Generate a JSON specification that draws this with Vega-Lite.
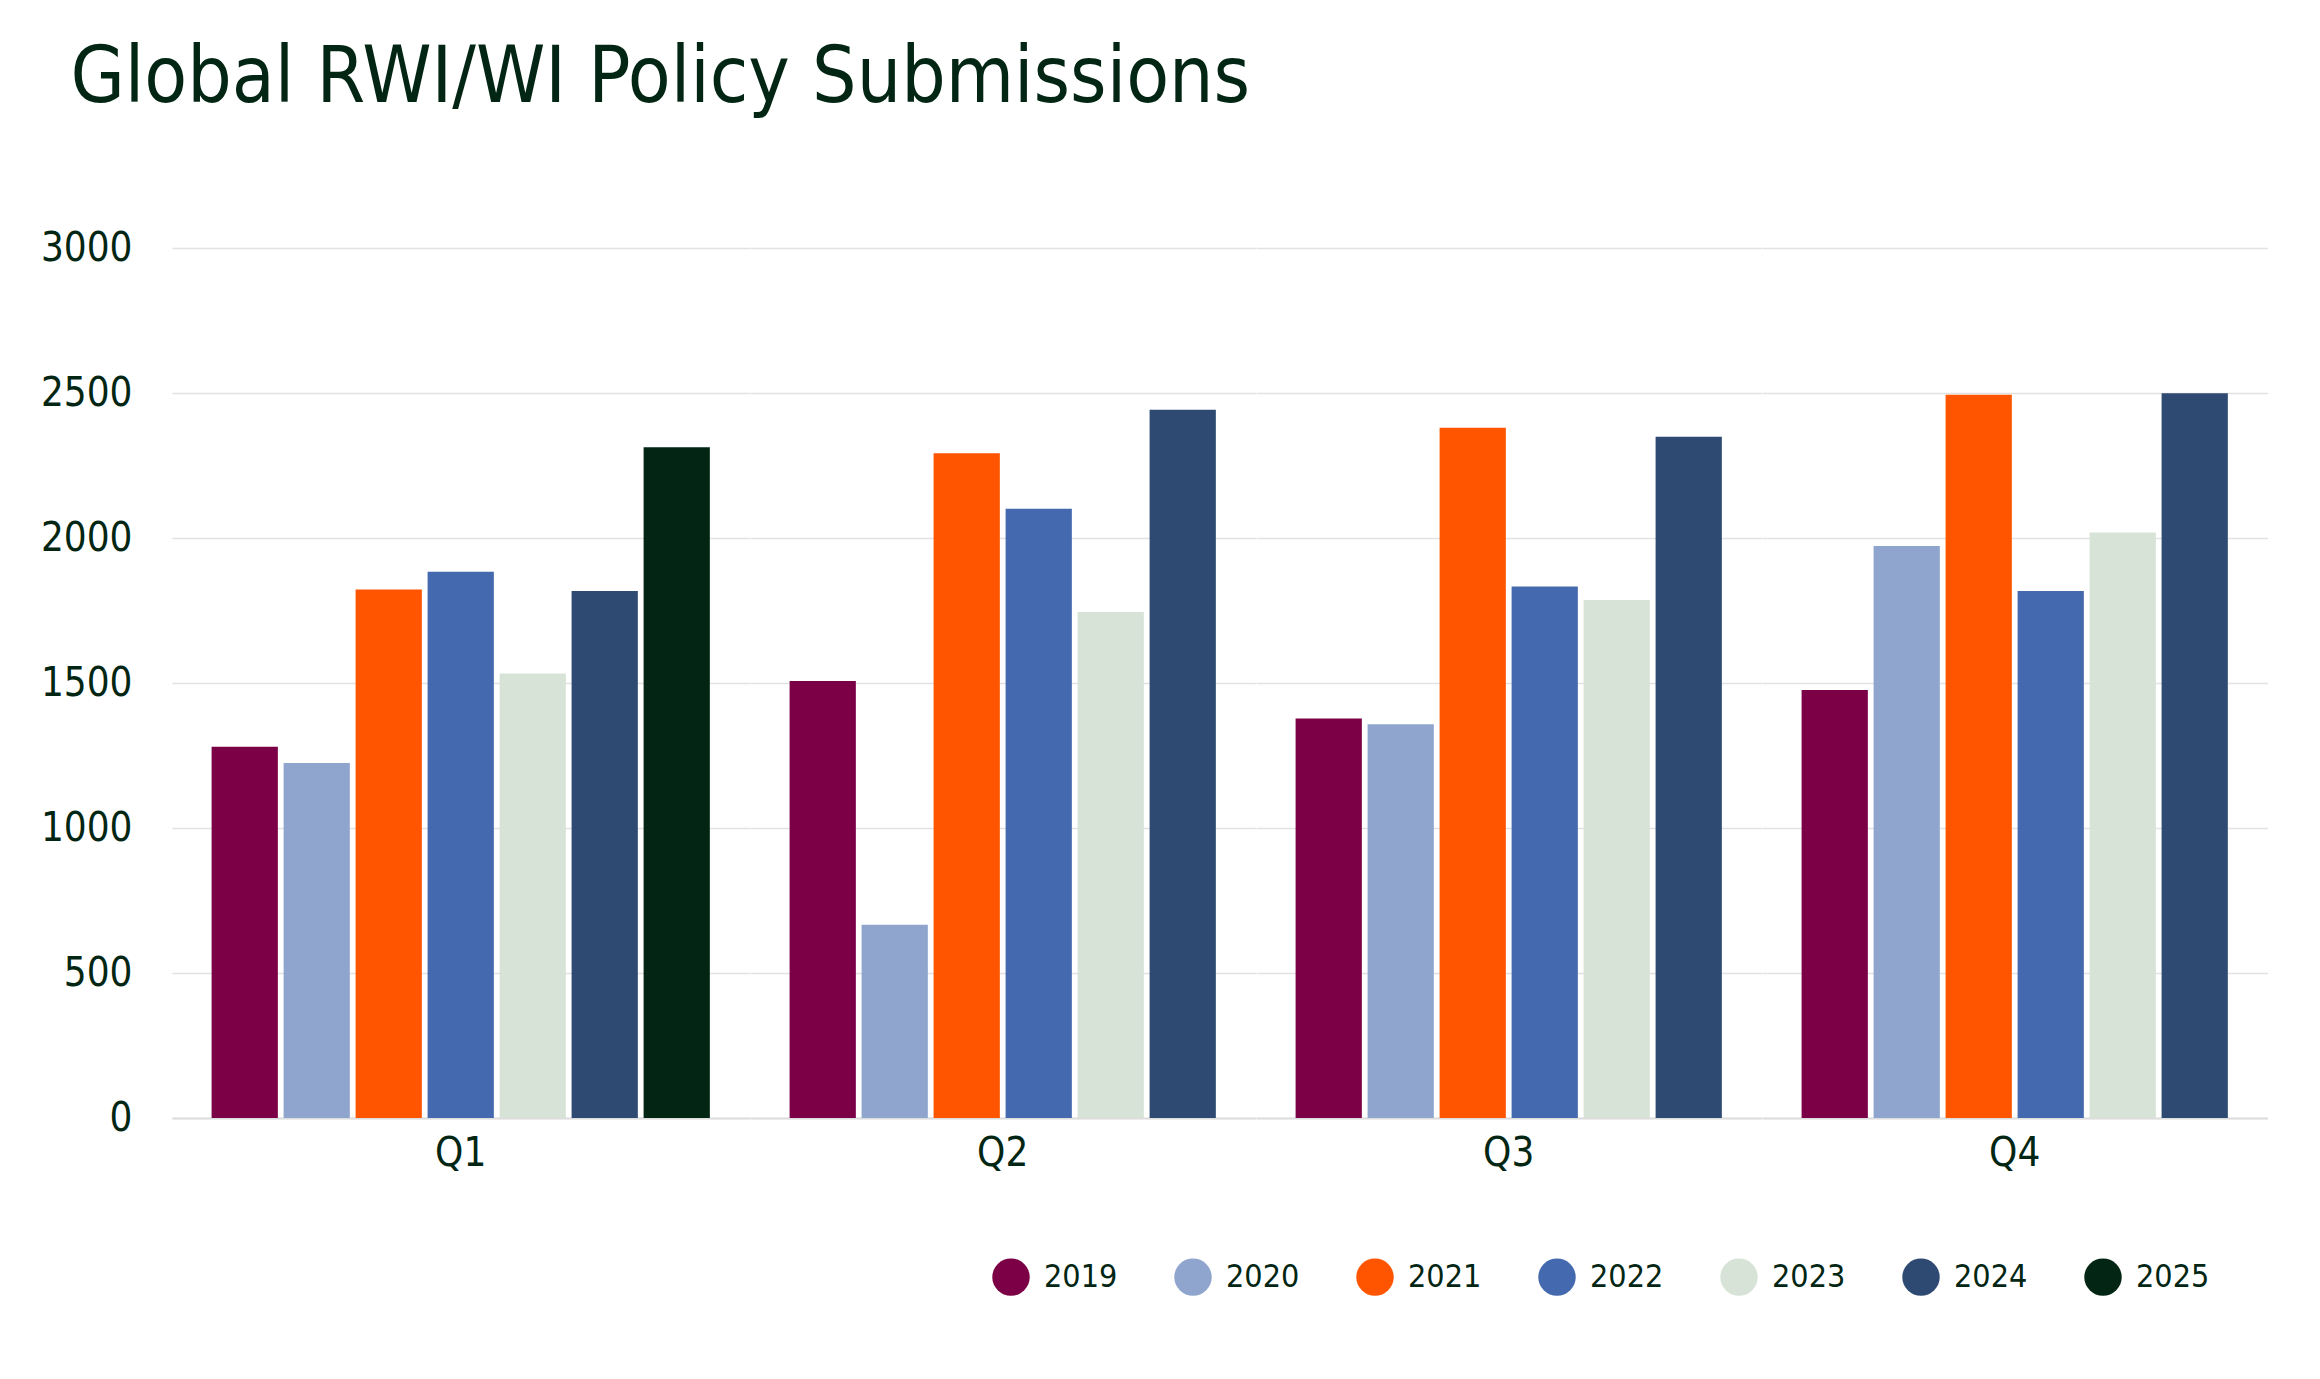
{
  "$schema": "https://vega.github.io/schema/vega-lite/v6.json",
  "background": "white",
  "padding": {"left": 40, "top": 40, "right": 45, "bottom": 40},
  "title": {
    "text": "Global RWI/WI Policy Submissions",
    "anchor": "start",
    "font": "DejaVu Sans Condensed, Roboto, sans-serif",
    "fontSize": 78,
    "fontWeight": 500,
    "color": "#022613",
    "offset": 110,
    "dx": 30
  },
  "data": {
    "values": [
      {"Quarter": "Q1", "Year": "2019", "Submissions": 1280},
      {"Quarter": "Q1", "Year": "2020", "Submissions": 1224},
      {"Quarter": "Q1", "Year": "2021", "Submissions": 1822},
      {"Quarter": "Q1", "Year": "2022", "Submissions": 1884},
      {"Quarter": "Q1", "Year": "2023", "Submissions": 1533},
      {"Quarter": "Q1", "Year": "2024", "Submissions": 1817},
      {"Quarter": "Q1", "Year": "2025", "Submissions": 2313},
      {"Quarter": "Q2", "Year": "2019", "Submissions": 1507},
      {"Quarter": "Q2", "Year": "2020", "Submissions": 666},
      {"Quarter": "Q2", "Year": "2021", "Submissions": 2292},
      {"Quarter": "Q2", "Year": "2022", "Submissions": 2101},
      {"Quarter": "Q2", "Year": "2023", "Submissions": 1745},
      {"Quarter": "Q2", "Year": "2024", "Submissions": 2442},
      {"Quarter": "Q3", "Year": "2019", "Submissions": 1378},
      {"Quarter": "Q3", "Year": "2020", "Submissions": 1358},
      {"Quarter": "Q3", "Year": "2021", "Submissions": 2380},
      {"Quarter": "Q3", "Year": "2022", "Submissions": 1833},
      {"Quarter": "Q3", "Year": "2023", "Submissions": 1786},
      {"Quarter": "Q3", "Year": "2024", "Submissions": 2349},
      {"Quarter": "Q4", "Year": "2019", "Submissions": 1476},
      {"Quarter": "Q4", "Year": "2020", "Submissions": 1972},
      {"Quarter": "Q4", "Year": "2021", "Submissions": 2494},
      {"Quarter": "Q4", "Year": "2022", "Submissions": 1817},
      {"Quarter": "Q4", "Year": "2023", "Submissions": 2019},
      {"Quarter": "Q4", "Year": "2024", "Submissions": 2499}
    ]
  },
  "facet": {
    "column": {
      "field": "Quarter",
      "type": "nominal",
      "title": null,
      "header": {
        "labelOrient": "bottom",
        "labelFont": "DejaVu Sans Condensed, Roboto, sans-serif",
        "labelFontSize": 40,
        "labelColor": "#022613",
        "labelPadding": 16
      }
    }
  },
  "spacing": 0,
  "resolve": {"scale": {"x": "independent"}},
  "spec": {
    "width": {"step": 72},
    "height": 870,
    "mark": {"type": "bar"},
    "encoding": {
      "x": {
        "field": "Year",
        "type": "nominal",
        "scale": {"paddingInner": 0.08, "paddingOuter": 0.55},
        "axis": {"labels": false, "ticks": false, "title": null, "domainColor": "#dddddd", "domainWidth": 2}
      },
      "y": {
        "field": "Submissions",
        "type": "quantitative",
        "scale": {"domain": [0, 3000]},
        "axis": {
          "values": [0, 500, 1000, 1500, 2000, 2500, 3000],
          "format": "d",
          "title": null,
          "domain": false,
          "ticks": false,
          "labelPadding": 40,
          "labelFont": "DejaVu Sans Condensed, Roboto, sans-serif",
          "labelFontSize": 40,
          "labelColor": "#022613",
          "gridColor": "#e2e2e2",
          "gridWidth": 1.5
        }
      },
      "color": {
        "field": "Year",
        "type": "nominal",
        "scale": {
          "domain": ["2019", "2020", "2021", "2022", "2023", "2024", "2025"],
          "range": ["#7B0046", "#8FA5CE", "#FF5500", "#4469AF", "#D8E3D8", "#2E4A72", "#022613"]
        },
        "legend": {
          "title": null,
          "orient": "none",
          "direction": "horizontal",
          "columns": 7,
          "legendX": 820,
          "legendY": 1010,
          "symbolType": "circle",
          "symbolSize": 1400,
          "symbolStrokeWidth": 0,
          "labelFont": "DejaVu Sans Condensed, Roboto, sans-serif",
          "labelFontSize": 32,
          "labelColor": "#022613",
          "columnPadding": 56,
          "labelOffset": 14
        }
      }
    }
  },
  "config": {"view": {"stroke": null}}
}
